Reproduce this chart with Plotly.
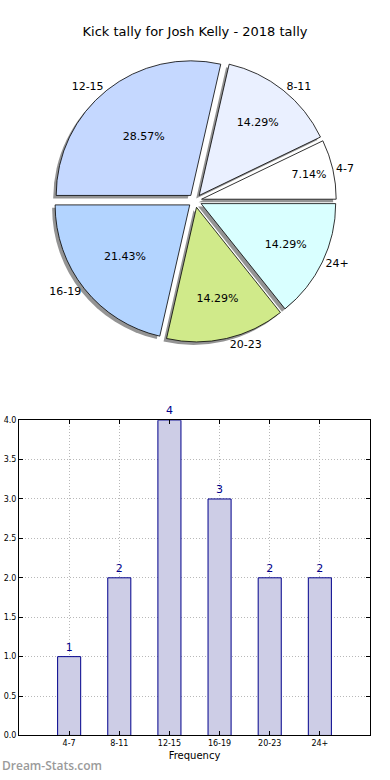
import plotly.graph_objects as go

categories = ["4-7", "8-11", "12-15", "16-19", "20-23", "24+"]
counts = [1, 2, 4, 3, 2, 2]
slice_colors = ["#ffffff", "#eaf0ff", "#c5d8ff", "#b3d4ff", "#d0ea8a", "#d9ffff"]
y_ticks = [0, 0.5, 1.0, 1.5, 2.0, 2.5, 3.0, 3.5, 4.0]
title_text = "Kick tally for Josh Kelly - 2018 tally"

W, H = 390, 780
FONT = "DejaVu Sans"

def px_x(p):
    return p / W

def px_y(p):
    return 1 - p / H

# first wedge starts at 3 o'clock and runs counterclockwise (plotly's rotation
# marks the end of the first slice when direction is counterclockwise)
start_rotation = 90 - 360 * counts[0] / sum(counts)

pie_dom_x = [px_x(51), px_x(339)]
pie_dom_y = [px_y(342), px_y(56)]
shadow_dx, shadow_dy = -3, 3
pull = [0.05] * len(categories)

fig = go.Figure()

# shadow pie
fig.add_trace(go.Pie(
    labels=categories, values=counts, sort=False, direction="counterclockwise",
    rotation=start_rotation, pull=pull,
    marker=dict(colors=["rgba(0,0,0,0.42)"] * 6, line=dict(width=0)),
    textinfo="none", hoverinfo="skip", showlegend=False,
    domain=dict(x=[pie_dom_x[0] + shadow_dx / W, pie_dom_x[1] + shadow_dx / W],
                y=[pie_dom_y[0] - shadow_dy / H, pie_dom_y[1] - shadow_dy / H]),
))

# main pie with percentages inside
fig.add_trace(go.Pie(
    labels=categories, values=counts, sort=False, direction="counterclockwise",
    rotation=start_rotation, pull=pull,
    marker=dict(colors=slice_colors, line=dict(color="black", width=0.8)),
    texttemplate="%{percent:.2%}", textposition="inside",
    insidetextorientation="horizontal",
    textfont=dict(family=FONT, size=11, color="black"),
    showlegend=False, domain=dict(x=pie_dom_x, y=pie_dom_y),
))

# label pie (transparent) with category labels outside
fig.add_trace(go.Pie(
    labels=categories, values=counts, sort=False, direction="counterclockwise",
    rotation=start_rotation, pull=pull,
    marker=dict(colors=["rgba(0,0,0,0)"] * 6, line=dict(width=0)),
    texttemplate="%{label}", textposition="outside",
    textfont=dict(family=FONT, size=11, color="black"),
    hoverinfo="skip", showlegend=False, domain=dict(x=pie_dom_x, y=pie_dom_y),
))

# bar chart
fig.add_trace(go.Bar(
    x=list(range(len(categories))), y=counts, width=0.46,
    marker=dict(color="#cdcde6", line=dict(color="#00008b", width=1)),
    text=[str(c) for c in counts], textposition="outside",
    textfont=dict(family=FONT, size=11, color="#00008b"),
    cliponaxis=False, xaxis="x", yaxis="y", showlegend=False,
))

grid_style = dict(showgrid=True, gridcolor="#b8b8b8", griddash="1px,2px", gridwidth=1)

fig.update_layout(
    width=W, height=H, margin=dict(l=0, r=0, t=0, b=0),
    paper_bgcolor="white", plot_bgcolor="white",
    font=dict(family=FONT, color="black"),
    title=dict(text=title_text, x=0.5, xanchor="center", y=px_y(31), yanchor="middle",
               font=dict(family=FONT, size=13, color="black")),
    xaxis=dict(domain=[px_x(19), px_x(370)], range=[-1, 6],
               tickmode="array", tickvals=list(range(len(categories))), ticktext=categories,
               tickfont=dict(family=FONT, size=8, color="black"),
               ticks="inside", ticklen=4, tickcolor="black", mirror="ticks",
               showline=True, linecolor="black", linewidth=1,
               zeroline=False, anchor="y",
               title=dict(text="Frequency", font=dict(family=FONT, size=10, color="black"), standoff=4),
               **grid_style),
    yaxis=dict(domain=[px_y(740), px_y(421)], range=[0, 4],
               tickmode="array", tickvals=y_ticks, ticktext=[f"{v:.1f}" for v in y_ticks],
               tickfont=dict(family=FONT, size=8, color="black"),
               ticks="inside", ticklen=4, tickcolor="black", mirror="ticks",
               showline=True, linecolor="black", linewidth=1,
               zeroline=False, anchor="x",
               **grid_style),
    annotations=[dict(text="Dream-Stats.com", x=0, y=px_y(770), xref="paper", yref="paper",
                      xanchor="left", yanchor="middle", showarrow=False,
                      font=dict(family="Open Sans", size=12, weight=600, color="#9a9a9a"))],
)

fig.write_html("out.html", config={"displayModeBar": False},
               post_script="document.body.style.margin='0';document.body.style.overflow='hidden';")
